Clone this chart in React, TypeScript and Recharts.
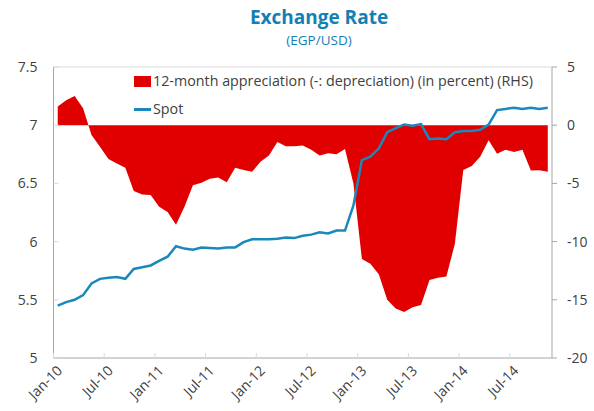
import React from 'react';
import {
  ComposedChart,
  Area,
  Line,
  XAxis,
  YAxis,
  ReferenceLine,
} from 'recharts';

const monthNames = ['Jan', 'Feb', 'Mar', 'Apr', 'May', 'Jun', 'Jul', 'Aug', 'Sep', 'Oct', 'Nov', 'Dec'];
const years = ['10', '11', '12', '13', '14'];
// Jan-10 .. Nov-14
const months = years.flatMap((y) => monthNames.map((m) => `${m}-${y}`)).slice(0, 59);

// EGP per USD (LHS)
const spot = [
  5.45, 5.48, 5.5, 5.54, 5.64, 5.68, 5.69, 5.695, 5.68, 5.765,
  5.78, 5.795, 5.835, 5.87, 5.96, 5.94, 5.93, 5.95, 5.945, 5.94,
  5.95, 5.95, 5.995, 6.02, 6.02, 6.02, 6.025, 6.035, 6.03, 6.05,
  6.06, 6.08, 6.07, 6.095, 6.095, 6.31, 6.7, 6.73, 6.8, 6.94,
  6.975, 7.005, 6.995, 7.01, 6.88, 6.885, 6.88, 6.94, 6.95, 6.95,
  6.96, 7.005, 7.13, 7.14, 7.15, 7.14, 7.15, 7.14, 7.15,
];

// 12-month appreciation, percent (RHS)
const appreciation = [
  1.6, 2.15, 2.5, 1.45, -0.85, -1.85, -2.9, -3.3, -3.65, -5.65,
  -5.95, -6.0, -7.0, -7.45, -8.55, -7.0, -5.15, -4.95, -4.6, -4.5,
  -4.9, -3.65, -3.85, -4.0, -3.15, -2.6, -1.45, -1.8, -1.8, -1.75,
  -2.1, -2.6, -2.4, -2.5, -2.05, -5.0, -11.5, -11.9, -12.8, -15.0,
  -15.75, -16.05, -15.65, -15.45, -13.3, -13.1, -13.0, -10.2, -3.85, -3.5,
  -2.7, -1.3, -2.45, -2.1, -2.3, -2.1, -3.9, -3.87, -4.0,
];

const leftTicks = [5, 5.5, 6, 6.5, 7, 7.5];
const rightTicks = [-20, -15, -10, -5, 0, 5];

const data = months.map((m, i) => ({ month: m, spot: spot[i], appr: appreciation[i] }));

const FONT = '"Open Sans", sans-serif';
const TEXT = '#404040';
const AXIS = '#a6a6a6';
const BLUE = '#1a88bb';
const RED = '#e00000';
const HALF_CAT = 4.23;

const XTick = (props: any) => {
  const { x, y, payload } = props;
  return (
    <g>
      <line x1={x - HALF_CAT} x2={x - HALF_CAT} y1={y} y2={y - 5} stroke="#d9d9d9" />
      <g transform={`translate(${x + 2},${y + 10})`}>
        <text transform="rotate(-45)" textAnchor="end" dy="0.35em" fill={TEXT} fontSize={14} fontFamily={FONT}>
          {payload.value}
        </text>
      </g>
    </g>
  );
};

const LeftTick = (props: any) => {
  const { x, y, payload } = props;
  return (
    <g>
      <line x1={x} x2={x + 5} y1={y} y2={y} stroke="#d9d9d9" />
      <text x={x - 16} y={y} dy="0.35em" textAnchor="end" fill={TEXT} fontSize={14} fontFamily={FONT}>
        {payload.value}
      </text>
    </g>
  );
};

const RightTick = (props: any) => {
  const { x, y, payload } = props;
  return (
    <g>
      <line x1={x} x2={x + 5} y1={y} y2={y} stroke={AXIS} />
      <text x={x + 15} y={y} dy="0.35em" textAnchor="start" fill={TEXT} fontSize={14} fontFamily={FONT}>
        {payload.value}
      </text>
    </g>
  );
};

export default function App() {
  return (
    <div style={{ position: 'absolute', left: 0, top: 0, width: 594, height: 411, background: '#fff', fontFamily: FONT }}>
      <div style={{ position: 'absolute', left: 219, width: 200, top: 4, textAlign: 'center', color: '#1380b5', fontWeight: 700, fontSize: 19, lineHeight: '26px' }}>
        Exchange Rate
      </div>
      <div style={{ position: 'absolute', left: 219, width: 200, top: 30, textAlign: 'center', color: '#1380b5', fontSize: 13.5, lineHeight: '20px' }}>
        (EGP/USD)
      </div>

      <ComposedChart
        width={594}
        height={411}
        data={data}
        margin={{ top: 67, right: 0, bottom: 13, left: 0 }}
      >
        <XAxis
          dataKey="month"
          interval={5}
          padding={{ left: HALF_CAT, right: HALF_CAT }}
          height={40}
          tickSize={0}
          tickMargin={0}
          tickLine={false}
          axisLine={{ stroke: AXIS }}
          tick={(p: any) => <XTick {...p} />}
        />
        <YAxis
          yAxisId="left"
          orientation="left"
          width={53.5}
          domain={[5, 7.5]}
          ticks={leftTicks}
          tickSize={0}
          tickMargin={0}
          tickLine={false}
          axisLine={{ stroke: AXIS }}
          tick={(p: any) => <LeftTick {...p} />}
        />
        <YAxis
          yAxisId="right"
          orientation="right"
          width={42}
          domain={[-20, 5]}
          ticks={rightTicks}
          tickSize={0}
          tickMargin={0}
          tickLine={false}
          axisLine={{ stroke: AXIS }}
          tick={(p: any) => <RightTick {...p} />}
        />
        <ReferenceLine yAxisId="left" y={7.5} stroke="#d9d9d9" />
        <Area
          yAxisId="right"
          dataKey="appr"
          type="linear"
          baseValue={0}
          fill={RED}
          fillOpacity={1}
          stroke="none"
          isAnimationActive={false}
        />
        <Line
          yAxisId="left"
          dataKey="spot"
          type="linear"
          stroke={BLUE}
          strokeWidth={2.5}
          dot={false}
          activeDot={false}
          isAnimationActive={false}
        />
      </ComposedChart>

      <div style={{ position: 'absolute', left: 134, top: 76, width: 17, height: 11, background: RED }} />
      <div style={{ position: 'absolute', left: 153, top: 71, fontSize: 14.3, lineHeight: '20px', color: TEXT, whiteSpace: 'nowrap' }}>
        12-month appreciation (-: depreciation) (in percent) (RHS)
      </div>
      <div style={{ position: 'absolute', left: 134, top: 108, width: 17, height: 2.5, background: BLUE }} />
      <div style={{ position: 'absolute', left: 153, top: 99, fontSize: 14.3, lineHeight: '20px', color: TEXT, whiteSpace: 'nowrap' }}>
        Spot
      </div>
    </div>
  );
}
